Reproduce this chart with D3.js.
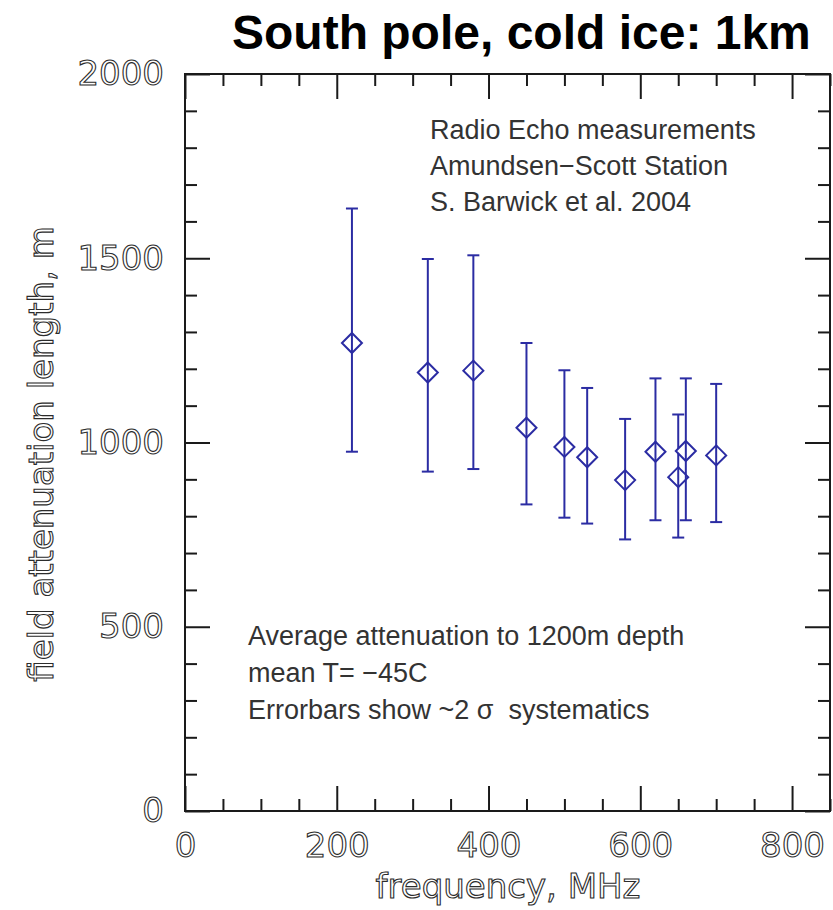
<!DOCTYPE html>
<html>
<head>
<meta charset="utf-8">
<script src="https://cdn.jsdelivr.net/npm/d3@7"></script>
<style>
  html, body { margin: 0; padding: 0; background: #fff; }
  svg { display: block; }
  .tick-label { font-family: "DejaVu Sans", sans-serif; font-size: 34px; fill: #fff; stroke: #2a2a2a; stroke-width: 1.1px; opacity: 0.99; }
  .ann { font-family: "Liberation Sans", Arial, sans-serif; font-size: 27px; fill: #333; white-space: pre; }
</style>
</head>
<body>
<svg id="chart" width="833" height="910"></svg>
<script>
// Radio echo attenuation measurements, South Pole
const frequency = [220, 320, 380, 450, 500, 530, 580, 620, 650, 660, 700];
const attenuation = [1270, 1190, 1195, 1040, 988, 960, 898, 975, 906, 977, 965];
const errUpper = [1635, 1498, 1508, 1270, 1196, 1148, 1064, 1174, 1076, 1174, 1159];
const errLower = [975, 921, 928, 832, 796, 780, 737, 789, 742, 789, 784];

const xMajorTicks = [0, 200, 400, 600, 800];
const yMajorTicks = [0, 500, 1000, 1500, 2000];

const titleText = "South pole, cold ice: 1km";
const xLabel = "frequency, MHz";
const yLabel = "field attenuation length, m";
const noteTop = ["Radio Echo measurements", "Amundsen\u2212Scott Station", "S. Barwick et al. 2004"];
const noteBottom = ["Average attenuation to 1200m depth", "mean T= \u221245C", "Errorbars show ~2 \u03c3  systematics"];

const svg = d3.select("#chart");
const plotL = 185, plotR = 830, plotT = 74, plotB = 811;

const x = d3.scaleLinear().domain([0, 850]).range([plotL, plotR]);
const y = d3.scaleLinear().domain([0, 2000]).range([plotB, plotT]);

const xMinor = d3.range(0, 851, 50).filter(v => v % 200 !== 0);
const yMinor = d3.range(0, 2001, 100).filter(v => v % 500 !== 0);

const axisColor = "#1a1a1a";
function styleAxis(g) {
  g.select(".domain").remove();
  g.selectAll(".tick line").attr("stroke", axisColor).attr("stroke-width", 2);
  g.selectAll(".tick text").attr("fill", null).attr("class", "tick-label");
  g.attr("font-size", null).attr("font-family", null);
}

// minor ticks on all four sides
svg.append("g").attr("transform", `translate(0,${plotB})`)
  .call(d3.axisBottom(x).tickValues(xMinor).tickSize(-12).tickFormat("")).call(styleAxis);
svg.append("g").attr("transform", `translate(0,${plotT})`)
  .call(d3.axisTop(x).tickValues(xMinor).tickSize(-12).tickFormat("")).call(styleAxis);
svg.append("g").attr("transform", `translate(${plotL},0)`)
  .call(d3.axisLeft(y).tickValues(yMinor).tickSize(-12).tickFormat("")).call(styleAxis);
svg.append("g").attr("transform", `translate(${plotR},0)`)
  .call(d3.axisRight(y).tickValues(yMinor).tickSize(-12).tickFormat("")).call(styleAxis);

// major ticks, labelled on the bottom and left
const xAxisG = svg.append("g").attr("transform", `translate(0,${plotB})`)
  .call(d3.axisBottom(x).tickValues(xMajorTicks).tickSize(-25).tickPadding(21).tickFormat(d3.format("d")))
  .call(styleAxis);
xAxisG.selectAll(".tick text").attr("y", null).attr("dy", null).attr("transform", "translate(0,46)");
svg.append("g").attr("transform", `translate(0,${plotT})`)
  .call(d3.axisTop(x).tickValues(xMajorTicks).tickSize(-25).tickFormat("")).call(styleAxis);
svg.append("g").attr("transform", `translate(${plotL},0)`)
  .call(d3.axisLeft(y).tickValues(yMajorTicks).tickSize(-25).tickPadding(21).tickFormat(d3.format("d")))
  .call(styleAxis);
svg.append("g").attr("transform", `translate(${plotR},0)`)
  .call(d3.axisRight(y).tickValues(yMajorTicks).tickSize(-25).tickFormat("")).call(styleAxis);

// frame
svg.append("rect").attr("x", plotL).attr("y", plotT)
  .attr("width", plotR - plotL).attr("height", plotB - plotT)
  .attr("fill", "none").attr("stroke", axisColor).attr("stroke-width", 2);

// axis titles
svg.append("text").attr("class", "tick-label").attr("x", 508).attr("y", 898)
  .attr("text-anchor", "middle").text(xLabel);
svg.append("text").attr("class", "tick-label")
  .attr("transform", `translate(53,454) rotate(-90)`)
  .attr("text-anchor", "middle").text(yLabel);

// title
svg.append("text").attr("x", 232).attr("y", 49)
  .attr("font-family", "Liberation Sans, Arial, sans-serif").attr("font-weight", "bold")
  .attr("font-size", 48).attr("fill", "#000").text(titleText);

// annotations
svg.append("g").selectAll("text").data(noteTop).join("text")
  .attr("class", "ann").attr("x", 430).attr("y", (d, i) => 139 + i * 36).text(d => d);
svg.append("g").selectAll("text").data(noteBottom).join("text")
  .attr("class", "ann").attr("x", 248).attr("y", (d, i) => 645 + i * 37).text(d => d);

// data: error bars and diamond markers
const blue = "#2b2ca3";
const pts = frequency.map((f, i) => ({ f, v: attenuation[i], hi: errUpper[i], lo: errLower[i] }));
const gData = svg.append("g").attr("stroke", blue).attr("stroke-width", 2).attr("fill", "none");
const cap = 6, dw = 10, dh = 10;
pts.forEach(p => {
  const cx = x(p.f);
  const g = gData.append("g");
  g.append("line").attr("x1", cx).attr("x2", cx).attr("y1", y(p.hi)).attr("y2", y(p.lo));
  g.append("line").attr("x1", cx - cap).attr("x2", cx + cap).attr("y1", y(p.hi)).attr("y2", y(p.hi));
  g.append("line").attr("x1", cx - cap).attr("x2", cx + cap).attr("y1", y(p.lo)).attr("y2", y(p.lo));
  const cy = y(p.v);
  g.append("path").attr("fill", "#fff")
    .attr("d", `M${cx},${cy - dh}L${cx + dw},${cy}L${cx},${cy + dh}L${cx - dw},${cy}Z`);
  g.append("line").attr("x1", cx).attr("x2", cx).attr("y1", cy - dh).attr("y2", cy + dh);
});
</script>
</body>
</html>
